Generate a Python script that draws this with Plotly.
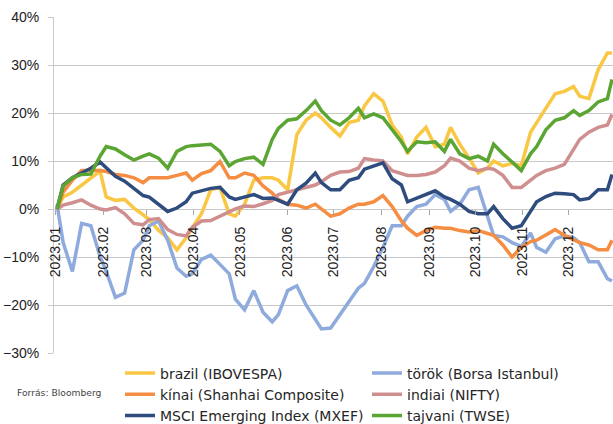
import pandas as pd
import plotly.graph_objects as go

# Sampling dates: every 4th trading day of 2023 plus the final session
bdays = pd.bdate_range("2023-01-02", "2023-12-29")
dates = list(bdays[::4]) + [bdays[-1]]

# Cumulative 2023 return of each index, percent
brazil = [0, 2.5, 3.5, 5, 6.5, 7.9, 2.5, 1.8, 2, 0.2, -1.2, -2.2, -4.4, -6, -8.5, -6,
          -3.9, -1, 4, 4.5, -1, -1.5, 1, 6, 6.5, 6.5, 6, 4, 15.5, 18.5, 20, 19, 17,
          15.2, 18, 18.5, 21.5, 24, 22.5, 17.5, 15, 11.5, 15, 17, 13, 13.5, 17, 13.5,
          10.6, 7.5, 8.5, 10, 9, 9.5, 9, 16, 18, 21, 24, 24.5, 25.5, 23.5, 23, 29,
          32.5, 32.5]
torok = [1, -7, -13, -3, -3.5, -9.9, -13, -18.4, -17.5, -8.5, -6.5, -3.5, -2.5, -6.5,
         -12.3, -14, -13.5, -10.5, -9.6, -11.5, -13.5, -18.8, -21, -17, -21.5, -23.5,
         -22, -17, -16, -20, -23, -25, -24.8, -22, -19.5, -16.5, -15.5, -12, -8, -3.5,
         -3.5, -1.5, 0.5, 1, 3, 2, -0.5, 1, 4, 4.5, -1.5, -5.5, -5.8, -7, -7.8, -5, -8,
         -9, -6.2, -5.6, -6, -7, -11, -11, -14.5, -15]
kinai = [0, 3.5, 6, 8, 8, 8, 7.8, 7.2, 7, 6.5, 5.5, 6.5, 6.5, 6.5, 7, 7.5, 6, 7.4, 8,
         9.9, 6.5, 6.5, 7.5, 7, 4.8, 3.3, 2, 1, 0.8, 0.2, 1, 0, -1.5, -1, 0.2, 1, 1,
         1.5, 2.8, 0.5, -2.5, -4, -5.5, -4.5, -3.8, -4, -4, -4.5, -4.8, -4.5, -5.2,
         -5.5, -7.5, -10, -8, -6.8, -6.5, -5.5, -4.3, -5.5, -6.5, -7, -7.5, -8.5, -8.5,
         -6.5]
indiai = [0, 0.8, 1.3, 1.9, 0.8, 0, -0.2, 0.3, -1, -3, -3.3, -2.2, -2, -4.3, -5.3,
          -5.6, -3.8, -2.5, -2.4, -1.5, -0.5, 0, 0.6, 0.5, 1.1, 1.8, 3, 3.5, 4, 4.5, 5,
          5.7, 7, 7.7, 7.8, 8.5, 10.5, 10.2, 10, 8, 7.5, 7, 7, 7.2, 7.7, 9, 10.6, 10,
          8.5, 8, 8.5, 8.3, 7, 4.5, 4.5, 6, 7, 8, 8.5, 9.3, 12.5, 14.5, 16, 17, 17.5,
          19.7]
mxef = [0, 5, 6.5, 7.5, 8.5, 9.8, 8.5, 6.8, 5.8, 4.3, 2.8, 2.5, 1, -0.5, 0.2, 1.5,
        3.3, 3.8, 4.3, 4.5, 2.5, 2, 2.5, 3, 2.2, 2.3, 1.8, 1, 4, 5.4, 7.5, 5.5, 4, 4,
        6, 6.5, 8.3, 9, 9.6, 6.3, 5, 1.5, 2.3, 3, 3.8, 2.5, 2, 1, -0.5, -1, -1, 0.5,
        -2, -4, -3.5, -0.5, 1.5, 2.6, 3.3, 3.2, 3, 1.9, 2.2, 4, 4, 7.2]
tajvani = [0, 4.8, 6.5, 7.2, 7.3, 11, 13, 12.5, 11.3, 10.2, 11, 11.5, 10.6, 8.5, 12,
           13, 13.2, 13.3, 13.5, 12, 9, 9.9, 10.5, 10.8, 9.3, 14.5, 16.8, 18.5, 18.8,
           20.5, 22.5, 20.5, 18.5, 17.5, 19, 21, 19, 19.8, 19, 16.5, 14, 12, 14, 13.8,
           14, 12, 14.5, 11.5, 10.5, 11, 10, 13.5, 11.5, 9.8, 8, 11.5, 13, 16.5, 18.5,
           19, 20.5, 19.5, 20.5, 22.3, 23, 27]

# Drawing order; the legend columns are split between two legends
series = [
    ("brazil (IBOVESPA)", brazil, "#F9C744", "legend"),
    ("török (Borsa Istanbul)", torok, "#8FAADC", "legend2"),
    ("kínai (Shanhai Composite)", kinai, "#F58D42", "legend"),
    ("indiai (NIFTY)", indiai, "#CF8F8F", "legend2"),
    ("MSCI Emerging Index (MXEF)", mxef, "#2F4C7E", "legend"),
    ("tajvani (TWSE)", tajvani, "#5BA532", "legend2"),
]

fig = go.Figure()
for name, vals, color, leg in series:
    fig.add_trace(go.Scatter(
        x=dates, y=vals, name=name, mode="lines",
        line=dict(color=color, width=3.5),
        legend=leg,
    ))

W, H = 613, 424
ml, mr, mt, mb = 54, 0, 17, 71
pw, ph = W - ml - mr, H - mt - mb


def px_x(x):
    return (x - ml) / pw


def px_y(y):
    return (H - mb - y) / ph


grid = "#C9C9C9"
tick_font = dict(family="Liberation Sans, Arial, sans-serif", size=14, color="#222222")
leg_font = dict(family="DejaVu Sans, sans-serif", size=14, color="#262626")

fig.update_layout(
    width=W, height=H,
    margin=dict(l=ml, r=mr, t=mt, b=mb, autoexpand=False),
    paper_bgcolor="white", plot_bgcolor="white",
    showlegend=True,
    xaxis=dict(
        type="date",
        range=["2022-12-31 01:00", "2023-12-29 15:36"],
        tickformat="%Y.%m", dtick="M1", tick0="2023-01-01",
        tickangle=-90, tickfont=tick_font,
        ticks="outside", ticklen=5, tickcolor="#A6A6A6",
        showgrid=False, showline=False, zeroline=False,
        anchor="free", position=3 / 7,
        ticklabelstandoff=6,
    ),
    yaxis=dict(
        range=[-30, 40], dtick=10, ticksuffix="%",
        tickfont=tick_font,
        showgrid=True, gridcolor=grid, gridwidth=1,
        zeroline=False,
        showline=True, linecolor=grid, linewidth=1,
        ticks="outside", ticklen=5, tickcolor=grid,
        ticklabelstandoff=6,
    ),
    legend=dict(
        x=px_x(120), y=px_y(357.5), xanchor="left", yanchor="top",
        orientation="v", font=leg_font, bgcolor="rgba(0,0,0,0)",
        tracegroupgap=0, itemwidth=30,
    ),
    legend2=dict(
        x=px_x(367), y=px_y(357.5), xanchor="left", yanchor="top",
        orientation="v", font=leg_font, bgcolor="rgba(0,0,0,0)",
        tracegroupgap=0, itemwidth=30,
    ),
    annotations=[dict(
        text="Forrás: Bloomberg", xref="paper", yref="paper",
        x=px_x(15), y=px_y(392.5), xanchor="left", yanchor="middle",
        showarrow=False,
        font=dict(family="DejaVu Sans, sans-serif", size=9.2, color="#444444"),
    )],
)

fig.write_html("out.html")
